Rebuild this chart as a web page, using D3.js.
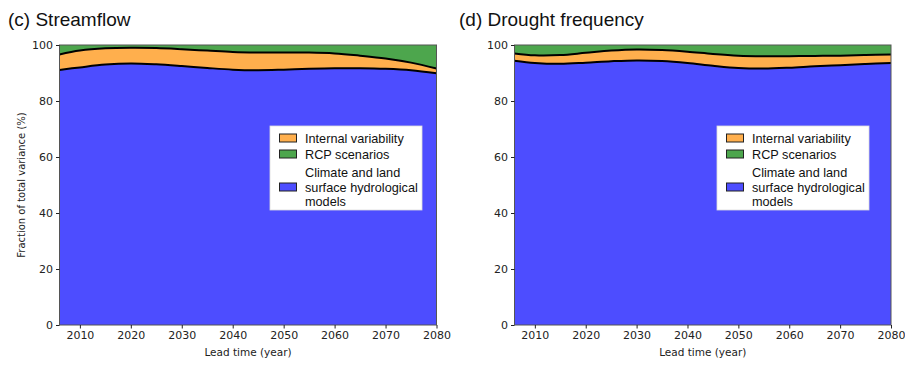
<!DOCTYPE html>
<html>
<head>
<meta charset="utf-8">
<script src="https://cdn.jsdelivr.net/npm/d3@7"></script>
<style>
  body { margin: 0; background: #fff; }
  svg { display: block; }
</style>
</head>
<body>
<div id="chart"></div>
<script>
// lead years (sampled every 5 years from the curves)
const years = [2006, 2010, 2015, 2020, 2025, 2030, 2035, 2040, 2045, 2050, 2055, 2060, 2065, 2070, 2075, 2080]

// streamflow: cumulative boundaries (%)
const streamModels = [91.1, 92.0, 93.0, 93.4, 93.1, 92.5, 91.8, 91.2, 91.0, 91.2, 91.5, 91.7, 91.7, 91.5, 91.0, 89.9]
const streamInternal = [96.6, 98.0, 98.8, 99.0, 98.9, 98.5, 98.0, 97.5, 97.3, 97.3, 97.3, 97.0, 96.2, 95.2, 93.7, 91.6]

// drought frequency: cumulative boundaries (%)
const droughtModels = [94.4, 93.6, 93.3, 93.7, 94.2, 94.5, 94.3, 93.6, 92.6, 91.8, 91.6, 91.9, 92.4, 92.8, 93.2, 93.6]
const droughtInternal = [97.0, 96.3, 96.4, 97.2, 98.0, 98.4, 98.2, 97.6, 96.8, 96.2, 96.0, 96.0, 96.1, 96.2, 96.4, 96.6]

const xTicks = [2010, 2020, 2030, 2040, 2050, 2060, 2070, 2080]
const yTicks = [0, 20, 40, 60, 80, 100]
const legendLabels = [['Internal variability'], ['RCP scenarios'], ['Climate and land', 'surface hydrological', 'models']]

const colors = { models: '#4d4dff', internal: '#ffaf4d', rcp: '#4da64d' }
const legendColors = [colors.internal, colors.rcp, colors.models]

const W = 905, H = 365
const svg = d3.select('#chart').append('svg').attr('width', W).attr('height', H)

const panels = [
  { title: '(c) Streamflow', titleX: 8, left: 59.5, right: 436.5, legendX: 270, models: streamModels, internal: streamInternal, ylabel: true },
  { title: '(d) Drought frequency', titleX: 459, left: 514.5, right: 891, legendX: 717, models: droughtModels, internal: droughtInternal, ylabel: false }
]

const plotTop = 45, plotBottom = 325

panels.forEach(function (p) {
  const x = d3.scaleLinear().domain([2006, 2080]).range([p.left, p.right])
  const y = d3.scaleLinear().domain([0, 100]).range([plotBottom, plotTop])
  const g = svg.append('g')

  const rows = years.map(function (yr, i) {
    return { year: yr, m: p.models[i], iv: p.internal[i] }
  })
  const curve = d3.curveCatmullRom.alpha(0.5)

  // stacked areas
  g.append('path').datum(rows)
    .attr('fill', colors.rcp)
    .attr('d', d3.area().curve(curve).x(d => x(d.year)).y0(d => y(d.iv)).y1(() => y(100)))
  g.append('path').datum(rows)
    .attr('fill', colors.internal)
    .attr('d', d3.area().curve(curve).x(d => x(d.year)).y0(d => y(d.m)).y1(d => y(d.iv)))
  g.append('path').datum(rows)
    .attr('fill', colors.models)
    .attr('d', d3.area().curve(curve).x(d => x(d.year)).y0(() => y(0)).y1(d => y(d.m)))

  // boundary lines
  ;['m', 'iv'].forEach(function (k) {
    g.append('path').datum(rows)
      .attr('fill', 'none')
      .attr('stroke', '#000')
      .attr('stroke-width', 2)
      .attr('d', d3.line().curve(curve).x(d => x(d.year)).y(d => y(d[k])))
  })

  // frame
  g.append('rect')
    .attr('x', p.left).attr('y', plotTop)
    .attr('width', p.right - p.left).attr('height', plotBottom - plotTop)
    .attr('fill', 'none').attr('stroke', '#555').attr('stroke-width', 1)

  // axes
  const xAxis = g.append('g').attr('transform', 'translate(0,' + plotBottom + ')')
    .call(d3.axisBottom(x).tickValues(xTicks).tickFormat(d3.format('d')).tickSize(3.5).tickPadding(3))
  const yAxis = g.append('g').attr('transform', 'translate(' + p.left + ',0)')
    .call(d3.axisLeft(y).tickValues(yTicks).tickSize(3.5).tickPadding(3))
  ;[xAxis, yAxis].forEach(function (a) {
    a.select('.domain').remove()
    a.selectAll('line').attr('stroke', '#222')
    a.selectAll('text').attr('fill', '#222')
      .style('font-family', 'DejaVu Sans').style('font-size', '11px')
  })

  g.append('text')
    .attr('x', (p.left + p.right) / 2).attr('y', 356)
    .attr('text-anchor', 'middle')
    .style('font-family', 'DejaVu Sans').style('font-size', '10.5px').attr('fill', '#222')
    .text('Lead time (year)')

  if (p.ylabel) {
    g.append('text')
      .attr('transform', 'translate(25,' + (plotTop + plotBottom) / 2 + ') rotate(-90)')
      .attr('text-anchor', 'middle')
      .style('font-family', 'DejaVu Sans').style('font-size', '10px').attr('fill', '#222')
      .text('Fraction of total variance (%)')
  }

  // title
  svg.append('text')
    .attr('x', p.titleX).attr('y', 26)
    .style('font-family', 'Liberation Sans, Arial').style('font-size', '19px').attr('fill', '#111')
    .text(p.title)

  // legend
  const lg = g.append('g').attr('transform', 'translate(' + p.legendX + ',126)')
  lg.append('rect').attr('x', 0).attr('y', 0).attr('width', 152).attr('height', 84)
    .attr('fill', '#fff').attr('stroke', '#ddd').attr('stroke-width', 0.8)
  const rowY = [12, 28, 61]
  legendLabels.forEach(function (lines, i) {
    lg.append('rect').attr('x', 9.5).attr('y', rowY[i] - 4).attr('width', 17).attr('height', 8)
      .attr('fill', legendColors[i]).attr('stroke', '#222').attr('stroke-width', 1)
    const t = lg.append('text')
      .style('font-family', 'Liberation Sans, Arial').style('font-size', '12.7px').attr('fill', '#111')
    const lh = 14.5
    const y0 = rowY[i] - (lines.length - 1) * lh / 2 + 4.5
    lines.forEach(function (s, j) {
      t.append('tspan').attr('x', 35).attr('y', y0 + j * lh).text(s)
    })
  })
})
</script>
</body>
</html>
